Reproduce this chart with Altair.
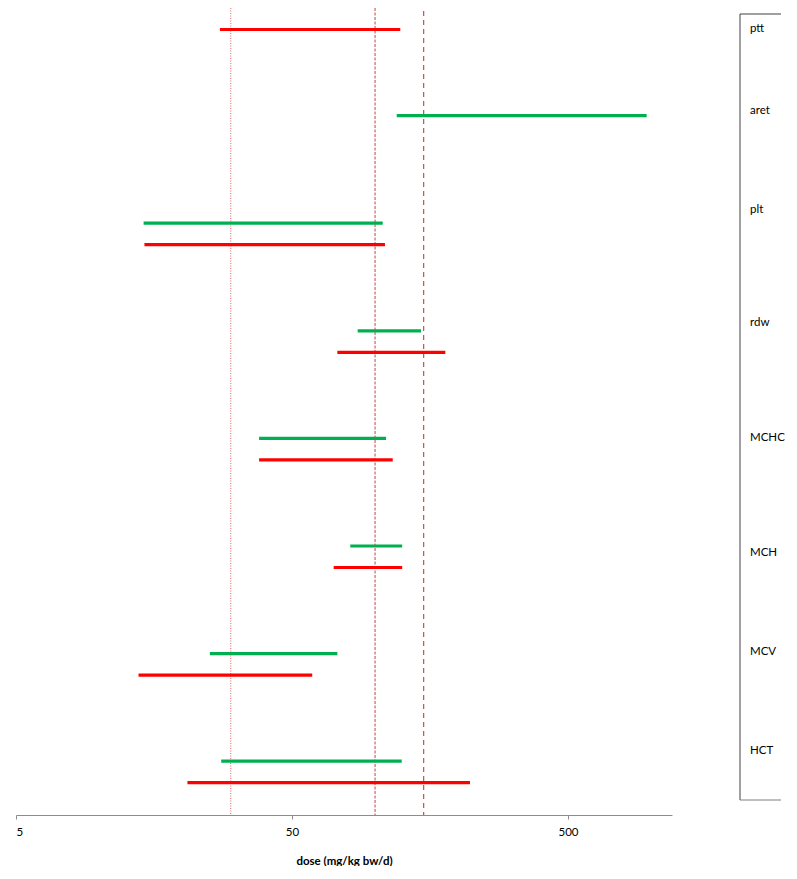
import altair as alt
import pandas as pd

# ---- data ----
categories = ["ptt", "aret", "plt", "rdw", "MCHC", "MCH", "MCV", "HCT"]
green_low = [None, 119.8, 14.5, 86.5, 38.0, 81.3, 25.2, 27.7]
green_high = [None, 964.0, 106.6, 146.7, 109.6, 125.4, 73.0, 124.9]
red_low = [27.4, None, 14.6, 73.0, 38.0, 70.8, 13.9, 20.9]
red_high = [123.4, None, 108.6, 179.7, 115.9, 125.4, 59.2, 220.8]
ref_doses = [30, 100, 150]
tick_values = [5, 50, 500]
# label anchor rows in the right-hand box (in row units)
label_rows = [0.195, 0.957, 1.877, 2.928, 4.0, 5.065, 5.985, 6.905]

rows = []
for i, c in enumerate(categories):
    if green_low[i] is not None:
        rows.append({"cat": c, "series": "green", "low": green_low[i],
                     "high": green_high[i], "row": i})
    if red_low[i] is not None:
        rows.append({"cat": c, "series": "red", "low": red_low[i],
                     "high": red_high[i], "row": i + 0.2})
df = pd.DataFrame(rows)
labels_df = pd.DataFrame({"cat": categories, "row": label_rows})
one = pd.DataFrame({"a": [0]})

W, H = 656, 807
FONT = "Lato"

xscale = alt.Scale(type="log", domain=[5, 1191], nice=False)
yscale = alt.Scale(domain=[0, 7.5], reverse=True, nice=False, zero=False)

xaxis = alt.Axis(values=tick_values, format="d", grid=False,
                 title="dose (mg/kg bw/d)", titleFont=FONT, titleFontWeight="bold",
                 titleFontSize=11.5, titleColor="black", titlePadding=18,
                 labelFont=FONT, labelFontSize=11.5, labelColor="black",
                 labelPadding=7, tickSize=4, domainColor="#8c8c8c",
                 tickColor="#8c8c8c")

base_ref = alt.Chart(pd.DataFrame({"dose": ref_doses}))

ref30 = base_ref.transform_filter(alt.datum.dose == 30).mark_rule(
    color="#e06060", strokeDash=[1, 1.5], strokeWidth=1).encode(
    x=alt.X("dose:Q", scale=xscale, axis=xaxis))
ref100 = base_ref.transform_filter(alt.datum.dose == 100).mark_rule(
    color="#d06464", strokeDash=[3, 1.5], strokeWidth=1.2).encode(
    x=alt.X("dose:Q", scale=xscale))
ref150 = base_ref.transform_filter(alt.datum.dose == 150).mark_rule(
    color="#c0504d", strokeDash=[5, 4], strokeWidth=1.2).encode(
    x=alt.X("dose:Q", scale=xscale), y=alt.value(3), y2=alt.value(H))

bars = alt.Chart(df).mark_rule(strokeWidth=3.2).encode(
    x=alt.X("low:Q", scale=xscale),
    x2="high:Q",
    y=alt.Y("row:Q", scale=yscale, axis=None),
    color=alt.Color("series:N", scale=alt.Scale(domain=["green", "red"],
                                                range=["#00b050", "#ff0000"]),
                    legend=None),
)

labels = alt.Chart(labels_df).mark_text(
    align="left", baseline="middle", font=FONT, fontSize=11.5, color="black"
).encode(x=alt.value(734), y=alt.Y("row:Q", scale=yscale), text="cat:N")

box_left = alt.Chart(one).mark_rule(color="#404040", strokeWidth=1).encode(
    x=alt.value(724), y=alt.value(6), y2=alt.value(792))
box_top = alt.Chart(one).mark_rule(color="#404040", strokeWidth=1).encode(
    x=alt.value(724), x2=alt.value(765), y=alt.value(6), y2=alt.value(6))
box_bottom = alt.Chart(one).mark_rule(color="#7f7f7f", strokeWidth=1).encode(
    x=alt.value(724), x2=alt.value(765), y=alt.value(792), y2=alt.value(792))

chart = alt.layer(ref30, ref100, ref150, bars, labels, box_left, box_top, box_bottom).properties(
    width=W, height=H,
    autosize=alt.AutoSizeParams(type="none"),
    padding={"left": 8, "top": 0, "right": 117, "bottom": 51},
).configure_view(stroke=None)

chart.save("out.html", embed_options={"renderer": "svg", "actions": False})
